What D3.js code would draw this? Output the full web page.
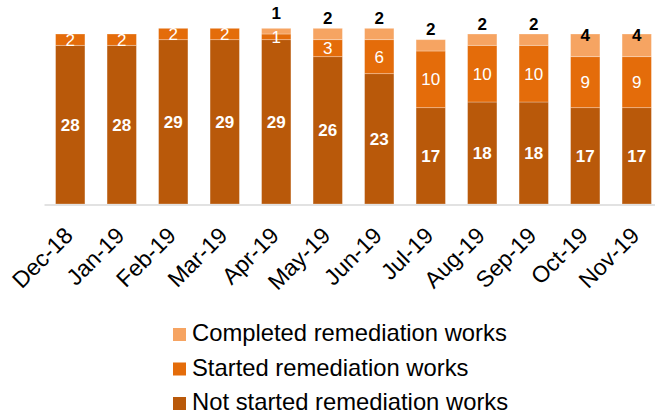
<!DOCTYPE html>
<html>
<head>
<meta charset="utf-8">
<script src="https://cdn.jsdelivr.net/npm/d3@7"></script>
<style>
  body { margin: 0; background: #fff; }
  text { font-family: Arial, "Liberation Sans", sans-serif; }
</style>
</head>
<body>
<div id="chart"></div>
<script>
// chart data
var months = ["Dec-18", "Jan-19", "Feb-19", "Mar-19", "Apr-19", "May-19",
              "Jun-19", "Jul-19", "Aug-19", "Sep-19", "Oct-19", "Nov-19"];
var notStarted = [28, 28, 29, 29, 29, 26, 23, 17, 18, 18, 17, 17];
var started    = [2, 2, 2, 2, 1, 3, 6, 10, 10, 10, 9, 9];
var completed  = [0, 0, 0, 0, 1, 2, 2, 2, 2, 2, 4, 4];
var seriesNames = ["Not started remediation works", "Started remediation works", "Completed remediation works"];

var colors = ["#b9590a", "#e46c0a", "#f6a462"];

var W = 655, H = 416;
var svg = d3.select("#chart").append("svg")
    .attr("width", W)
    .attr("height", H);

var x = d3.scaleBand()
    .domain(months)
    .range([44.5, 662.5])
    .paddingInner(0.43)
    .paddingOuter(0.215);

var y = d3.scaleLinear()
    .domain([0, 36])
    .range([204, 0]);

// stack rows
var rows = months.map(function(m, i) {
    return { month: m, s0: notStarted[i], s1: started[i], s2: completed[i] };
});
var stack = d3.stack().keys(["s0", "s1", "s2"]);
var layers = stack(rows);

var bars = svg.append("g");
layers.forEach(function(layer, li) {
    bars.append("g")
        .selectAll("rect")
        .data(layer.filter(function(d) { return d[1] > d[0]; }))
        .enter()
        .append("rect")
        .attr("x", function(d) { return x(d.data.month); })
        .attr("y", function(d) { return y(d[1]); })
        .attr("width", x.bandwidth())
        .attr("height", function(d) { return y(d[0]) - y(d[1]); })
        .attr("fill", colors[li])
        .attr("stroke", "rgba(255,255,255,0.35)")
        .attr("stroke-width", 0.8);
});

// axis line
svg.append("line")
    .attr("x1", 44.5).attr("x2", W)
    .attr("y1", 205).attr("y2", 205)
    .attr("stroke", "#d9d9d9")
    .attr("stroke-width", 1.5);

// x tick labels
var xAxis = svg.append("g")
    .attr("transform", "translate(0,205)")
    .call(d3.axisBottom(x).tickSize(0));
xAxis.select(".domain").remove();
xAxis.selectAll("text")
    .attr("font-size", "23px")
    .attr("fill", "#000")
    .attr("text-anchor", "end")
    .attr("y", 0)
    .attr("dy", "0")
    .attr("transform", "translate(4,32) rotate(-45)");

// labels: not started
var lab = svg.append("g");
lab.selectAll(".l0")
    .data(layers[0])
    .enter().append("text")
    .attr("x", function(d) { return x(d.data.month) + x.bandwidth() / 2; })
    .attr("y", function(d) { return (y(d[0]) + y(d[1])) / 2; })
    .attr("dy", "0.36em")
    .attr("text-anchor", "middle")
    .attr("font-size", "17px")
    .attr("font-weight", "bold")
    .attr("fill", "#fff")
    .text(function(d) { return d.data.s0; });

// labels: started
lab.selectAll(".l1")
    .data(layers[1])
    .enter().append("text")
    .attr("x", function(d) { return x(d.data.month) + x.bandwidth() / 2; })
    .attr("y", function(d) { return (y(d[0]) + y(d[1])) / 2; })
    .attr("dy", "0.36em")
    .attr("text-anchor", "middle")
    .attr("font-size", "17px")
    .attr("fill", "#fff")
    .text(function(d) { return d.data.s1; });

// labels: completed (above the bar, or at its top when segment is tall)
lab.selectAll(".l2")
    .data(layers[2].filter(function(d) { return d.data.s2 > 0; }))
    .enter().append("text")
    .attr("x", function(d) { return x(d.data.month) + x.bandwidth() / 2; })
    .attr("y", function(d) {
        var top = y(d[1]);
        if (d.data.s2 >= 4) return top + 1;
        if (d.data.s2 == 1) return top - 15;
        return top - 10.5;
    })
    .attr("dy", "0.36em")
    .attr("text-anchor", "middle")
    .attr("font-size", "17px")
    .attr("font-weight", "bold")
    .attr("fill", "#000")
    .text(function(d) { return d.data.s2; });

// legend
var legend = svg.append("g").attr("transform", "translate(173,0)");
var legendOrder = [2, 1, 0];
legendOrder.forEach(function(si, i) {
    var by = 341 + i * 34.5;
    legend.append("rect")
        .attr("x", 0).attr("y", by - 13)
        .attr("width", 13).attr("height", 13)
        .attr("fill", colors[si]);
    legend.append("text")
        .attr("x", 19).attr("y", by)
        .attr("font-size", "23.8px")
        .attr("fill", "#000")
        .text(seriesNames[si]);
});
</script>
</body>
</html>
